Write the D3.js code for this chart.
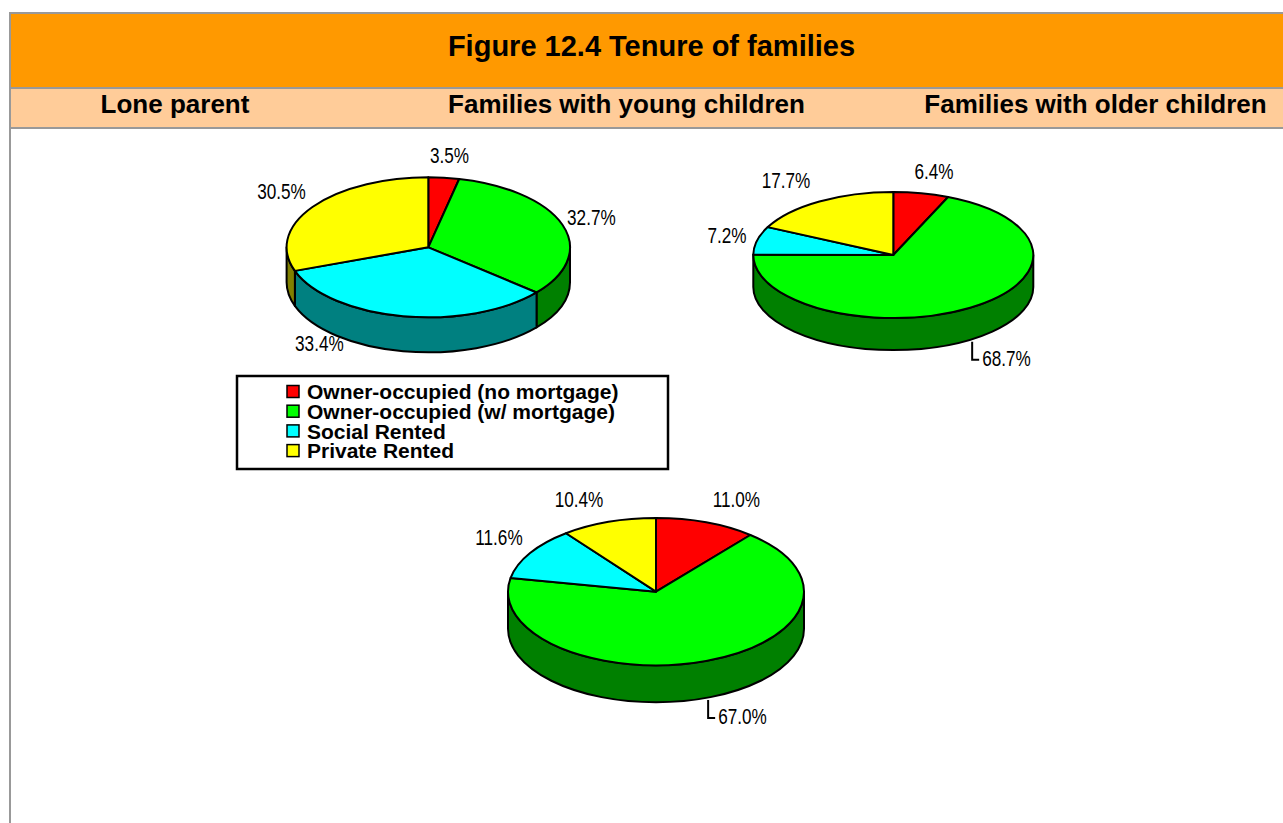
<!DOCTYPE html>
<html>
<head>
<meta charset="utf-8">
<script src="https://cdn.jsdelivr.net/npm/d3@7"></script>
<style>
  body { margin: 0; background: #fff; }
  text { font-family: "Liberation Sans", Arial, sans-serif; }
</style>
</head>
<body>
<script>
// data
let categories = ['Owner-occupied (no mortgage)', 'Owner-occupied (w/ mortgage)', 'Social Rented', 'Private Rented'];
let panelTitles = ['Lone parent', 'Families with young children', 'Families with older children'];
let lonePct = [3.5, 32.7, 33.4, 30.5];
let youngPct = [6.4, 68.7, 7.2, 17.7];
let olderPct = [11.0, 67.0, 11.6, 10.4];

let topColors = ['#ff0000', '#00ff00', '#00ffff', '#ffff00'];
let sideColors = ['#800000', '#008000', '#008080', '#808000'];

let width = 1283;
let height = 823;

let svg = d3.select('body').append('svg')
            .attr('width', width)
            .attr('height', height)

// frame + header bands
svg.append('rect').attr('x', 10).attr('y', 13).attr('width', width).attr('height', 75).attr('fill', '#ff9900')
svg.append('rect').attr('x', 10).attr('y', 88).attr('width', width).attr('height', 40).attr('fill', '#ffcc99')
svg.append('line').attr('x1', 9).attr('x2', width).attr('y1', 13).attr('y2', 13).attr('stroke', '#999').attr('stroke-width', 2)
svg.append('line').attr('x1', 9).attr('x2', width).attr('y1', 88).attr('y2', 88).attr('stroke', '#999').attr('stroke-width', 2)
svg.append('line').attr('x1', 9).attr('x2', width).attr('y1', 128).attr('y2', 128).attr('stroke', '#999').attr('stroke-width', 2)
svg.append('line').attr('x1', 10).attr('x2', 10).attr('y1', 12).attr('y2', height).attr('stroke', '#999').attr('stroke-width', 2)

svg.append('text')
   .attr('x', 651.5).attr('y', 56)
   .attr('text-anchor', 'middle')
   .attr('font-size', '29px').attr('font-weight', 'bold')
   .text('Figure 12.4 Tenure of families')

let panelX = [175, 626.5, 1095.5];
svg.selectAll('text.panel').data(panelTitles)
   .enter()
   .append('text')
   .attr('class', 'panel')
   .attr('x', (d, i) => panelX[i])
   .attr('y', 113)
   .attr('text-anchor', 'middle')
   .attr('font-size', '26px').attr('font-weight', 'bold')
   .text(d => d)

// pie layout (positions only)
let pies = [
  {values: lonePct, cx: 428.3, cy: 247.3, rx: 141.7, ry: 70, depth: 35,
   nudge: [[5.7, -14.7], [28.8, 0], [-83.7, 35], [-31, -7.6]]},
  {values: youngPct, cx: 893.3, cy: 255, rx: 140, ry: 63, depth: 32,
   nudge: [[12.8, -14.3], null, [-30, 2.5], [-33.4, -13.5]]},
  {values: olderPct, cx: 656, cy: 591.7, rx: 148, ry: 73.6, depth: 37,
   nudge: [[30.3, -15.5], null, [-31.1, -8.1], [-29.5, -15]]}
];

let pieGen = d3.pie().sort(null).value(d => d);

function pt(p, a, dy) {
  return [p.cx + p.rx * Math.sin(a), p.cy - p.ry * Math.cos(a) + (dy || 0)];
}

pies.forEach(p => {
  let arcs = pieGen(p.values);
  let g = svg.append('g');

  // side walls (front half only)
  arcs.forEach((a, i) => {
    let s = Math.max(a.startAngle, Math.PI / 2);
    let e = Math.min(a.endAngle, Math.PI * 1.5);
    if (s >= e) return;
    let p0 = pt(p, s), p1 = pt(p, e), p2 = pt(p, e, p.depth), p3 = pt(p, s, p.depth);
    g.append('path')
     .attr('d', `M${p0} A${p.rx},${p.ry} 0 0 1 ${p1} L${p2} A${p.rx},${p.ry} 0 0 0 ${p3} Z`)
     .attr('fill', sideColors[i])
     .attr('stroke', 'black')
     .attr('stroke-width', 2)
     .attr('stroke-linejoin', 'round')
  });

  // top faces
  arcs.forEach((a, i) => {
    let p0 = pt(p, a.startAngle), p1 = pt(p, a.endAngle);
    let large = (a.endAngle - a.startAngle) > Math.PI ? 1 : 0;
    g.append('path')
     .attr('d', `M${p.cx},${p.cy} L${p0} A${p.rx},${p.ry} 0 ${large} 1 ${p1} Z`)
     .attr('fill', topColors[i])
     .attr('stroke', 'black')
     .attr('stroke-width', 2)
     .attr('stroke-linejoin', 'round')
  });

  // labels
  arcs.forEach((a, i) => {
    let mid = (a.startAngle + a.endAngle) / 2;
    let txt = a.data.toFixed(1) + '%';
    let n = p.nudge[i];
    if (n) {
      let m = pt(p, mid);
      g.append('text')
       .attr('transform', `translate(${m[0] + n[0]},${m[1] + n[1]}) scale(0.78,1)`)
       .attr('text-anchor', 'middle')
       .attr('font-size', '22px')
       .text(txt)
    } else {
      let m = pt(p, mid, p.depth + 2);
      let x = m[0] + 2;
      let y2 = m[1] + 18;
      g.append('path')
       .attr('d', `M${x},${m[1]} L${x},${y2} L${x + 7},${y2}`)
       .attr('fill', 'none')
       .attr('stroke', 'black')
       .attr('stroke-width', 2)
      g.append('text')
       .attr('transform', `translate(${x + 10},${y2 + 6}) scale(0.78,1)`)
       .attr('font-size', '22px')
       .text(txt)
    }
  });
});

// legend
let legend = svg.append('g').attr('transform', 'translate(237,376)');
legend.append('rect')
      .attr('width', 431).attr('height', 93)
      .attr('fill', 'white').attr('stroke', 'black').attr('stroke-width', 2.5)

legend.selectAll('rect.sw').data(categories)
      .enter()
      .append('rect')
      .attr('class', 'sw')
      .attr('x', 50)
      .attr('y', (d, i) => 9.5 + i * 19.7)
      .attr('width', 12).attr('height', 12)
      .attr('fill', (d, i) => topColors[i])
      .attr('stroke', 'black').attr('stroke-width', 1.5)

legend.selectAll('text.item').data(categories)
      .enter()
      .append('text')
      .attr('class', 'item')
      .attr('x', 70)
      .attr('y', (d, i) => 23.3 + i * 19.7)
      .attr('font-size', '21px').attr('font-weight', 'bold')
      .text(d => d)
</script>
</body>
</html>
